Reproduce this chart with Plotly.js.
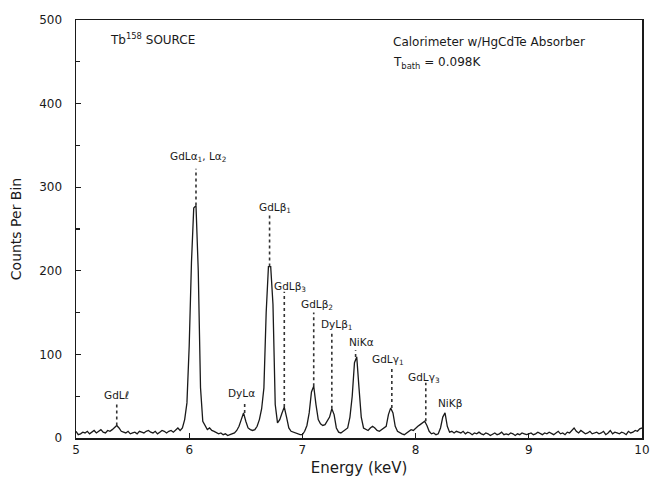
<!DOCTYPE html>
<html>
<head>
<meta charset="utf-8">
<script src="https://cdn.plot.ly/plotly-3.0.1.min.js"></script>
<style>html,body{margin:0;padding:0;background:#fff;}#chart{width:651px;height:481px;}</style>
</head>
<body>
<div id="chart"></div>
<script>
// Spectrum: counts per 0.02 keV bin, starting at 5.00 keV
const energyStart = 5.0;
const binWidth = 0.02;
const counts = [
  8, 4, 5, 7, 6, 8, 5, 7, 9, 6,          // 5.00-5.18
  8, 10, 7, 6, 9, 8, 10, 12, 15, 12,     // 5.20-5.38
  8, 7, 6, 8, 5, 6, 7, 5, 8, 7,          // 5.40-5.58
  6, 8, 9, 7, 6, 8, 5, 7, 9, 8,          // 5.60-5.78
  6, 8, 9, 7, 9, 12, 9, 12, 22, 42,      // 5.80-5.98
  110, 210, 275, 278, 200, 60, 20, 14, 10, 12, // 6.00-6.18
  9, 8, 6, 5, 6, 4, 5, 3, 4, 5,          // 6.20-6.38
  6, 9, 14, 22, 30, 20, 12, 10, 9, 10,   // 6.40-6.58
  14, 22, 35, 60, 150, 205, 205, 160, 40, 18, // 6.60-6.78
  22, 30, 37, 25, 12, 8, 7, 6, 5, 4,     // 6.80-6.98
  4, 8, 15, 30, 55, 62, 40, 22, 17, 15,  // 7.00-7.18
  16, 20, 25, 35, 28, 12, 7, 6, 8, 10,   // 7.20-7.38
  12, 25, 50, 90, 97, 60, 25, 12, 10, 9, // 7.40-7.58
  12, 14, 12, 9, 8, 10, 12, 14, 28, 36,  // 7.60-7.78
  30, 14, 8, 6, 5, 4, 6, 8, 10, 9,       // 7.80-7.98
  12, 14, 16, 18, 20, 15, 8, 5, 6, 4,    // 8.00-8.18
  5, 12, 25, 30, 14, 7, 8, 6, 8, 7,      // 8.20-8.38
  6, 8, 5, 7, 6, 4, 6, 5, 7, 5,          // 8.40-8.58
  4, 6, 5, 3, 5, 6, 4, 5, 7, 4,          // 8.60-8.78
  5, 4, 6, 5, 3, 5, 4, 6, 5, 4,          // 8.80-8.98
  5, 6, 4, 5, 7, 5, 4, 6, 5, 7,          // 9.00-9.18
  5, 4, 6, 8, 5, 6, 4, 7, 6, 9,          // 9.20-9.38
  12, 8, 6, 9, 7, 5, 6, 8, 5, 6,         // 9.40-9.58
  7, 5, 6, 8, 4, 6, 9, 5, 7, 6,          // 9.60-9.78
  5, 7, 6, 4, 8, 6, 7, 9, 8, 11,         // 9.80-9.98
  12                                     // 10.00
];

// Peak markers (dotted leader lines): energy, lower end, upper end
const leaderEnergy = [5.36, 6.06, 6.49, 6.71, 6.84, 7.10, 7.26, 7.47, 7.79, 8.09];
const leaderBottom = [15, 278, 30, 205, 37, 62, 35, 97, 36, 20];
const leaderTop    = [40, 322, 42, 267, 175, 150, 128, 105, 84, 66];

// Peak labels
const labelText = ["GdL<i>ℓ</i>", "GdLα<sub>1</sub>, Lα<sub>2</sub>", "DyLα", "GdLβ<sub>1</sub>",
  "GdLβ<sub>3</sub>", "GdLβ<sub>2</sub>", "DyLβ<sub>1</sub>", "NiKα", "GdLγ<sub>1</sub>",
  "GdLγ<sub>3</sub>", "NiKβ"];
const labelEnergy = [5.36, 6.08, 6.46, 6.76, 6.89, 7.13, 7.31, 7.52, 7.76, 8.07, 8.30];
const labelCounts = [51, 336, 54, 275, 181, 159, 135, 115, 93, 72, 42];

// Info texts
const infoText = ["Tb<sup>158</sup> SOURCE", "Calorimeter w/HgCdTe Absorber", "T<sub>bath</sub> = 0.098K"];
const infoEnergy = [5.28, 7.78, 7.78];
const infoCounts = [477, 474, 449];

const lx = [], ly = [];
for (let i = 0; i < leaderEnergy.length; i++) {
  lx.push(leaderEnergy[i], leaderEnergy[i], null);
  ly.push(leaderBottom[i], leaderTop[i], null);
}

const ink = '#1a1a1a';
const fam = 'DejaVu Sans, Verdana, sans-serif';
const traces = [
  {type: 'scatter', mode: 'lines', x0: energyStart, dx: binWidth, y: counts,
   line: {color: ink, width: 1.3, shape: 'linear'}, hoverinfo: 'skip'},
  {type: 'scatter', mode: 'lines', x: lx, y: ly,
   line: {color: '#333', width: 1.6, dash: 'dot'}, hoverinfo: 'skip'}
];

const annotations = [];
for (let i = 0; i < labelText.length; i++) {
  annotations.push({x: labelEnergy[i], y: labelCounts[i], xref: 'x', yref: 'y', text: labelText[i],
    showarrow: false, xanchor: 'center', yanchor: 'middle',
    font: {family: fam, size: 10.5, color: ink}});
}
for (let i = 0; i < infoText.length; i++) {
  annotations.push({x: infoEnergy[i], y: infoCounts[i], xref: 'x', yref: 'y', text: infoText[i],
    showarrow: false, xanchor: 'left', yanchor: 'middle',
    font: {family: fam, size: 12, color: ink}});
}

const layout = {
  width: 651, height: 481,
  margin: {l: 76, r: 9, t: 20, b: 43},
  paper_bgcolor: '#fff', plot_bgcolor: '#fff',
  showlegend: false,
  font: {family: fam, color: ink, size: 12},
  xaxis: {range: [5, 10], dtick: 1, tick0: 5, showgrid: false, zeroline: false,
    showline: true, linecolor: ink, linewidth: 1.5, mirror: true,
    ticks: 'inside', ticklen: 5, tickcolor: ink, tickwidth: 1.2,
    ticklabeloverflow: 'allow',
    tickfont: {family: fam, size: 12, color: ink},
    title: {text: 'Energy (keV)', font: {family: fam, size: 15, color: ink}, standoff: 6}},
  yaxis: {range: [0, 500], dtick: 100, tick0: 0, showgrid: false, zeroline: false,
    showline: true, linecolor: ink, linewidth: 1.5, mirror: true,
    ticks: 'inside', ticklen: 5, tickcolor: ink, tickwidth: 1.2,
    ticklabelstandoff: 10,
    minor: {dtick: 50, ticks: 'inside', ticklen: 4, tickcolor: ink},
    tickfont: {family: fam, size: 12, color: ink},
    title: {text: 'Counts Per Bin', font: {family: fam, size: 14, color: ink}, standoff: 14}},
  annotations: annotations
};

Plotly.newPlot('chart', traces, layout, {staticPlot: true, displayModeBar: false});
</script>
</body>
</html>
